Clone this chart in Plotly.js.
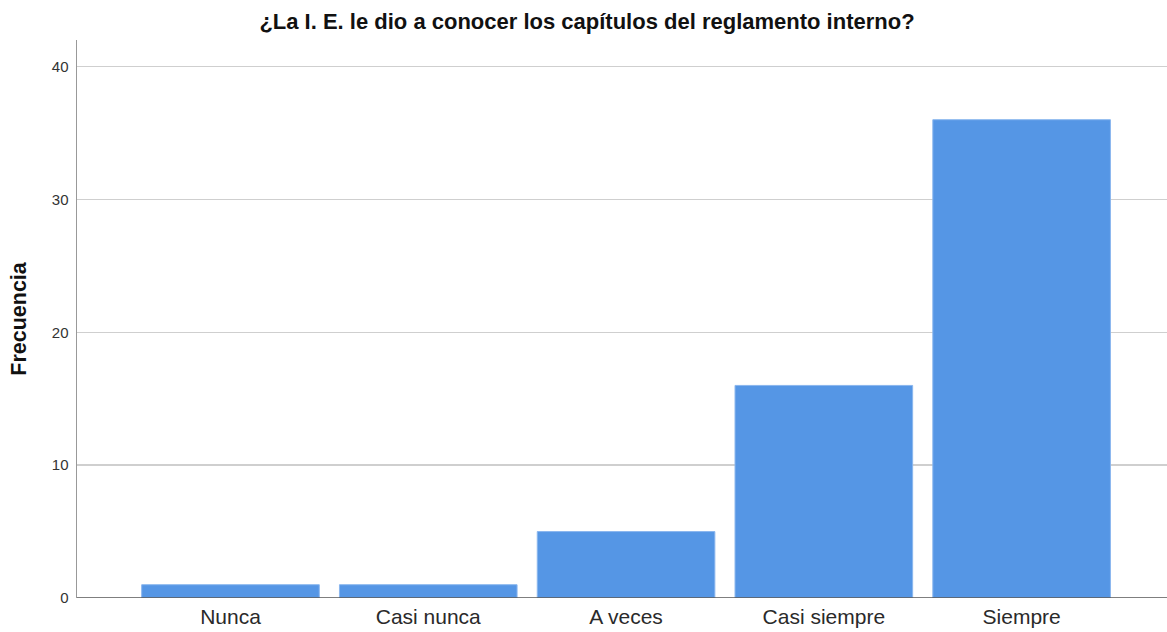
<!DOCTYPE html>
<html>
<head>
<meta charset="utf-8">
<script src="https://cdn.plot.ly/plotly-3.0.1.min.js"></script>
<style>html,body{margin:0;padding:0;background:#fff;}#chart{width:1167px;height:632px;}</style>
</head>
<body>
<div id="chart"></div>
<script>
const categories = ["Nunca", "Casi nunca", "A veces", "Casi siempre", "Siempre"];
const frecuencia = [1, 1, 5, 16, 36];
const yTicks = [0, 10, 20, 30, 40];

const trace = {
  type: "bar",
  x: categories,
  y: frecuencia,
  width: 0.898,
  marker: { color: "#5596e5", line: { color: "#8ab6ee", width: 1 } },
  hoverinfo: "x+y"
};

const layout = {
  width: 1167,
  height: 632,
  margin: { l: 77, r: 0, t: 40, b: 34 },
  paper_bgcolor: "#ffffff",
  plot_bgcolor: "#ffffff",
  font: { family: "Liberation Sans, Arial, sans-serif", color: "#222" },
  title: {
    text: "<b>¿La I. E. le dio a conocer los capítulos del reglamento interno?</b>",
    font: { size: 22, color: "#111" },
    xref: "container", x: 0.503, xanchor: "center",
    yref: "container", y: 0.966, yanchor: "middle"
  },
  showlegend: false,
  xaxis: {
    type: "category",
    range: [-0.776, 4.735],
    showgrid: false,
    zeroline: false,
    showline: false,
    ticks: "",
    tickfont: { size: 21, color: "#2a2a2a" },
    ticklabelstandoff: 4
  },
  yaxis: {
    range: [0, 42],
    tickvals: yTicks,
    ticktext: yTicks.map(String),
    showgrid: true,
    gridcolor: "#cfcfcf",
    gridwidth: 1.5,
    zeroline: false,
    showline: true,
    linecolor: "#999999",
    linewidth: 1.5,
    ticks: "",
    tickfont: { size: 15, color: "#333" },
    ticklabelstandoff: 4,
    title: { text: "<b>Frecuencia</b>", font: { size: 21.5, color: "#111" }, standoff: 19 }
  },
  shapes: [
    { type: "line", xref: "paper", yref: "y", x0: 0, x1: 1, y0: 0, y1: 0,
      line: { color: "#555555", width: 1.5 } }
  ]
};

Plotly.newPlot("chart", [trace], layout, { displayModeBar: false, staticPlot: true });
</script>
</body>
</html>
